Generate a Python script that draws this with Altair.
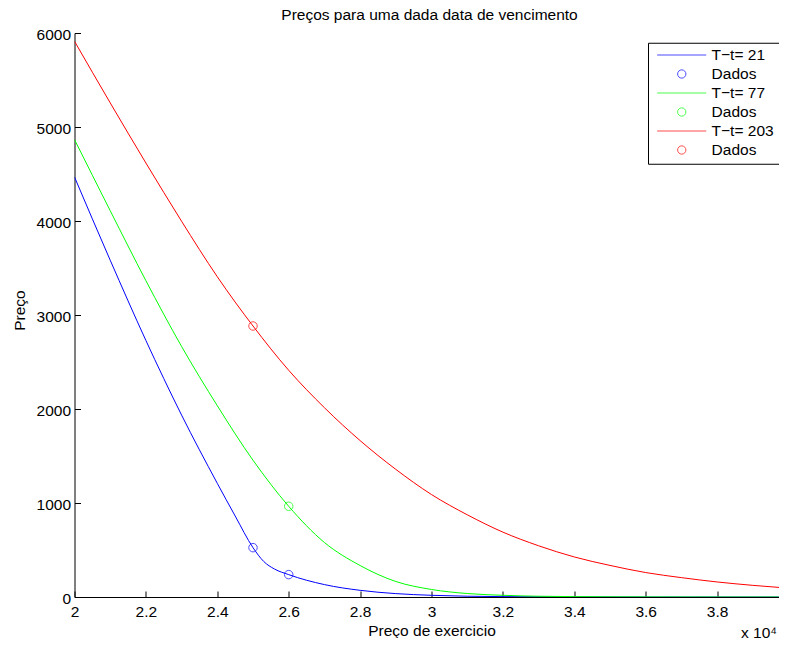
import altair as alt
import pandas as pd

# ---------------- texts ----------------
title_text = "Preços para uma dada data de vencimento"
x_title = "Preço de exercicio"
y_title = "Preço"
x_exponent = "x 10⁴"

# ---------------- series ----------------
series_keys = ["T−t= 21", "T−t= 77", "T−t= 203"]
series_colors = ["#0000ff", "#00ff00", "#ff0000"]

strike_21 = [20000, 21000, 22000, 23000, 24000, 24500, 25000, 25300, 25600, 26000,
             27000, 28000, 29000, 30000, 32000, 34000, 36000, 38000, 40000]
price_21 = [4468, 3583, 2729, 1935, 1209, 862, 525, 378, 298, 238,
            132, 71, 36, 18, 4, 1, 0, 0, 0]

strike_77 = [20000, 21000, 22000, 23000, 24000, 25000, 26000, 27000, 28000, 29000,
             30000, 31000, 32000, 33000, 34000, 35000, 36000, 38000, 40000]
price_77 = [4866, 4110, 3365, 2665, 2035, 1455, 965, 580, 335, 165,
            80, 37, 18, 8, 4, 2, 1, 0, 0]

strike_203 = [20000, 21000, 22000, 23000, 24000, 25000, 26000, 27000, 28000, 29000,
              30000, 31000, 32000, 33000, 34000, 35000, 36000, 37000, 38000, 39000, 40000]
price_203 = [5912, 5257, 4617, 3997, 3407, 2883, 2412, 2014, 1664, 1358,
             1090, 875, 690, 545, 426, 336, 260, 206, 160, 124, 94]

# observed data points ("Dados")
data_strike = [25000, 26000, 26000, 25000]
data_price = [525, 238, 965, 2883]
data_series = ["T−t= 21", "T−t= 21", "T−t= 77", "T−t= 203"]

# legend entries
legend_entries = ["T−t= 21", "Dados", "T−t= 77", "Dados ", "T−t= 203", "Dados  "]
legend_colors = ["#0000ff", "#0000ff", "#00ff00", "#00ff00", "#ff0000", "#ff0000"]

x_ticks = [20000 + 2000 * i for i in range(11)]
y_ticks = [1000 * i for i in range(7)]

# ---------------- tables ----------------
rows = []
for key, ks, ps in zip(series_keys, [strike_21, strike_77, strike_203],
                       [price_21, price_77, price_203]):
    for k, p in zip(ks, ps):
        rows.append({"strike": k, "price": p, "serie": key})
lines_df = pd.DataFrame(rows)
points_df = pd.DataFrame({"strike": data_strike, "price": data_price, "serie": data_series})
legend_df = pd.DataFrame({"entry": legend_entries})
title_df = pd.DataFrame({"t": [title_text]})

# legend symbols: a short line and a small circle (custom paths, unit = sqrt(size)/2 px)
line_path = "M-0.62,0H9.2"
cx, r = 4.3, 0.83
k = 0.5523 * r
circle_path = (
    f"M{cx + r:.3f},0"
    f"C{cx + r:.3f},{k:.3f},{cx + k:.3f},{r:.3f},{cx:.3f},{r:.3f}"
    f"C{cx - k:.3f},{r:.3f},{cx - r:.3f},{k:.3f},{cx - r:.3f},0"
    f"C{cx - r:.3f},{-k:.3f},{cx - k:.3f},{-r:.3f},{cx:.3f},{-r:.3f}"
    f"C{cx + k:.3f},{-r:.3f},{cx + r:.3f},{-k:.3f},{cx + r:.3f},0Z"
)
legend_shapes = [line_path, circle_path] * 3

FONT = "Liberation Sans"
FS = 15.5

x_scale = alt.Scale(domain=[20000, 40000], range=[0, 714], nice=False, zero=False)
y_scale = alt.Scale(domain=[0, 6000], nice=False, zero=False)
color_scale = alt.Scale(domain=series_keys, range=series_colors)

main_x_axis = alt.Axis(
    values=x_ticks, labelExpr="format(datum.value / 10000, '.1~f')",
    tickSize=0, labelPadding=19.3, labelBaseline="alphabetic",
    labelFlush=False, labelOverlap=False, labelBound=False,
    title=x_title, titleX=357, titleY=38.3, titleBaseline="alphabetic",
    titleAlign="center", grid=False, orient="bottom",
)
main_y_axis = alt.Axis(
    values=y_ticks, format="d", tickSize=0, labelPadding=4, labelBaseline="alphabetic",
    labelOffset=6.7, labelFlush=False, labelOverlap=False, labelBound=False,
    title=y_title, titleX=-50, titleY=277, titleAngle=270,
    titleBaseline="alphabetic", titleAlign="center", grid=False, orient="left",
)
tick_x_axis = alt.Axis(
    values=x_ticks, tickSize=6, offset=-6, labels=False, domain=False,
    grid=False, orient="bottom", title=x_exponent, titleX=666, titleY=46.8,
    titleAlign="left", titleBaseline="alphabetic",
)
tick_y_axis = alt.Axis(
    values=y_ticks, tickSize=6, offset=-6, labels=False, domain=False,
    grid=False, orient="left", title=None,
)

lines = alt.Chart(lines_df).mark_line(strokeWidth=1, interpolate="monotone", clip=True).encode(
    x=alt.X("strike:Q", scale=x_scale, axis=main_x_axis),
    y=alt.Y("price:Q", scale=y_scale, axis=main_y_axis),
    color=alt.Color("serie:N", scale=color_scale, legend=None),
)

points = alt.Chart(points_df).mark_point(filled=False, size=72, strokeWidth=1, shape="circle").encode(
    x=alt.X("strike:Q", scale=x_scale, axis=tick_x_axis),
    y=alt.Y("price:Q", scale=y_scale, axis=tick_y_axis),
    color=alt.Color("serie:N", scale=color_scale, legend=None),
)

leg = alt.Legend(
    orient="none", legendX=573.5, legendY=9.75, title=None,
    strokeColor="black", fillColor="white", padding=4.5,
    symbolSize=100, symbolStrokeWidth=1, labelOffset=43.6, rowPadding=2.0,
    labelFont=FONT, labelFontSize=FS, labelColor="black", labelLimit=300,
)
legend_layer = alt.Chart(legend_df).mark_point(filled=False, strokeWidth=1).encode(
    color=alt.Color("entry:N", scale=alt.Scale(domain=legend_entries, range=legend_colors), legend=leg),
    shape=alt.Shape("entry:N", scale=alt.Scale(domain=legend_entries, range=legend_shapes), legend=leg),
).transform_filter("false")

title_layer = alt.Chart(title_df).mark_text(
    font=FONT, fontSize=FS, color="black", align="center", baseline="alphabetic"
).encode(
    text="t:N", x=alt.value(355), y=alt.value(-12.6)
)

chart = alt.layer(lines, points, legend_layer, title_layer).resolve_scale(
    color="independent", shape="independent"
).resolve_axis(
    x="independent", y="independent"
).properties(
    width=704.5, height=564,
    autosize=alt.AutoSizeParams(type="none"),
    padding={"left": 66.5, "top": 25, "right": 0, "bottom": 41},
).configure_view(
    stroke=None
).configure_axis(
    domainColor="black", domainWidth=1, tickColor="black", tickWidth=1,
    labelColor="black", titleColor="black", labelFont=FONT, titleFont=FONT,
    labelFontSize=FS, titleFontSize=FS, titleFontWeight="normal", grid=False,
)

chart.save("out.html", embed_options={"renderer": "svg", "actions": False})
